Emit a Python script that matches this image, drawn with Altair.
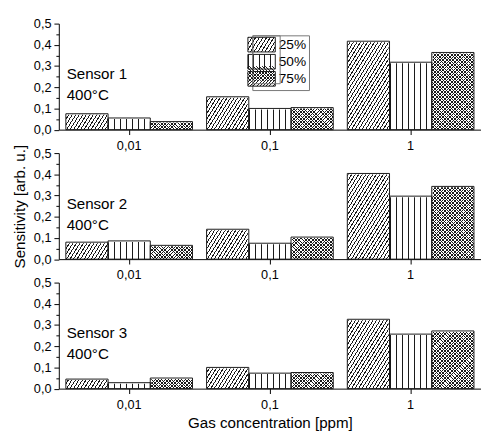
import math
import altair as alt
import pandas as pd

# ---------------- data ----------------
CONCS = ["0,01", "0,1", "1"]
HUMS = ["25%", "50%", "75%"]
SENSORS = ["Sensor 1", "Sensor 2", "Sensor 3"]
TEMP = "400°C"

S1_H25 = [0.075, 0.155, 0.417]
S1_H50 = [0.055, 0.100, 0.318]
S1_H75 = [0.038, 0.104, 0.364]

S2_H25 = [0.080, 0.141, 0.404]
S2_H50 = [0.086, 0.075, 0.297]
S2_H75 = [0.065, 0.104, 0.343]

S3_H25 = [0.045, 0.100, 0.327]
S3_H50 = [0.028, 0.073, 0.257]
S3_H75 = [0.050, 0.076, 0.272]

Y_TICKS = [0.0, 0.05, 0.1, 0.15, 0.2, 0.25, 0.3, 0.35, 0.4, 0.45, 0.5]

# ---------------- style ----------------
FONT = "Liberation Sans"
W = 432
H = 108.5
HATCH_TOP = 0.45                      # hatch texture band height (value units)
BAR_W = W / 3 * 0.9 / 3
BAR_H = H * HATCH_TOP / 0.5
LEG_W, LEG_H = 28, 15
INK = "#1a1a1a"
CLEAR = "rgba(255,255,255,0)"


def hatch(w, h, angle, spacing, lw, color=INK):
    """Linear gradient (objectBoundingBox units) drawing parallel lines
    at `angle` degrees on a w x h box."""
    th = math.radians(angle)
    a = math.sin(th) / h
    b = math.cos(th) / w
    n2 = a * a + b * b
    ts = [(u * a + v * b) / n2 for u, v in [(0, 0), (1, 0), (0, 1), (1, 1)]]
    t0, t1 = min(ts), max(ts)
    span = t1 - t0
    dtp = abs(a / w / n2) / span
    n = max(1, round(1 / (spacing * dtp)))
    per = 1.0 / n
    lwt = lw * dtp
    stops = []
    for k in range(n):
        o = k * per
        for off, col in [(o, color), (o + lwt, color), (o + lwt, CLEAR), (o + per, CLEAR)]:
            stops.append({"offset": round(min(1.0, off), 5), "color": col})
    return {
        "gradient": "linear",
        "x1": round(t0 * a, 6), "y1": round(t0 * b, 6),
        "x2": round(t1 * a, 6), "y2": round(t1 * b, 6),
        "stops": stops,
    }


def gexpr(g):
    stops = ",".join("{offset:%r,color:'%s'}" % (s["offset"], s["color"]) for s in g["stops"])
    return "{gradient:'linear',x1:%r,y1:%r,x2:%r,y2:%r,stops:[%s]}" % (
        g["x1"], g["y1"], g["x2"], g["y2"], stops)


G25 = hatch(BAR_W, BAR_H, 58, 3.6, 1.1)
G50 = hatch(BAR_W, BAR_H, 90, BAR_W / 7, 1.0)
G75A = hatch(BAR_W, BAR_H, 45, 3.4, 1.0)
G75B = hatch(BAR_W, BAR_H, 135, 3.4, 1.0)

L25 = hatch(LEG_W, LEG_H, 58, 3.6, 1.1)
L50 = hatch(LEG_W, LEG_H, 90, LEG_W / 5, 1.0)
L75A = hatch(LEG_W, LEG_H, 45, 3.4, 1.0)
L75B = hatch(LEG_W, LEG_H, 135, 3.4, 1.0)
EMPTY = {"gradient": "linear", "x1": 0, "y1": 0, "x2": 1, "y2": 0,
         "stops": [{"offset": 0, "color": CLEAR}, {"offset": 1, "color": CLEAR}]}

# swatch path: 4 x 2.14 units, drawn with size 196 -> 28 x 15 px
SWATCH = "M-2,-1.07H2V1.07H-2Z"

LABEL_EXPR = ("abs(datum.value*10 - round(datum.value*10)) < 0.001 ? "
              "replace(format(datum.value, '.1f'), '.', ',') : ''")
MAJOR_TEST = "abs(datum.value*10 - round(datum.value*10)) < 0.001"


def panel(idx, v25, v50, v75):
    rows = []
    for c, a, b, d in zip(CONCS, v25, v50, v75):
        rows += [{"conc": c, "hum": "25%", "value": a},
                 {"conc": c, "hum": "50%", "value": b},
                 {"conc": c, "hum": "75%", "value": d}]
    df = pd.DataFrame(rows)
    last = idx == 2
    middle = idx == 1

    x = alt.X("conc:N",
              scale=alt.Scale(domain=CONCS, paddingInner=0.1, paddingOuter=0.05),
              axis=alt.Axis(title="Gas concentration [ppm]" if last else None,
                            labelAngle=0, tickSize=5, labelPadding=5,
                            titleFontSize=15.5, titlePadding=5))
    xo = alt.XOffset("hum:N", scale=alt.Scale(domain=HUMS, paddingInner=0, paddingOuter=0))
    yscale = alt.Scale(domain=[0, 0.5], nice=False, zero=True)
    yaxis = alt.Axis(title="Sensitivity [arb. u.]" if middle else None,
                     values=Y_TICKS, labelExpr=LABEL_EXPR, labelOverlap=False,
                     tickSize={"condition": {"test": MAJOR_TEST, "value": 5}, "value": 3},
                     labelPadding=3, titleFontSize=15.5, titlePadding=6)
    y_val = alt.Y("value:Q", scale=yscale, axis=yaxis)
    y_tex = alt.Y(datum=HATCH_TOP, type="quantitative", scale=yscale, axis=yaxis)

    base = alt.Chart(df).encode(x=x, xOffset=xo)

    h25 = base.transform_filter(alt.datum.hum == "25%").mark_bar(fill=G25).encode(y=y_tex)
    h50 = base.transform_filter(alt.datum.hum == "50%").mark_bar(fill=G50).encode(y=y_tex)
    h75a = base.transform_filter(alt.datum.hum == "75%").mark_bar(fill=G75A).encode(y=y_tex)
    h75b = base.transform_filter(alt.datum.hum == "75%").mark_bar(fill=G75B).encode(y=y_tex)
    cover = base.mark_bar(fill="white", stroke="white", strokeWidth=2).encode(
        y=y_val, y2=alt.datum(HATCH_TOP))
    outline = base.mark_bar(fill="transparent", stroke=INK, strokeWidth=1).encode(y=y_val)

    tdf = pd.DataFrame({"name": [SENSORS[idx]]})
    text = alt.Chart(tdf).mark_text(
        text=[SENSORS[idx], TEMP], align="left", baseline="alphabetic",
        font=FONT, fontSize=15.5, lineHeight=21.5, color="black"
    ).encode(x=alt.value(8), y=alt.value(56.7))

    layers = [h25, h50, h75a, h75b, cover, outline, text]

    if idx == 0:
        common = dict(orient="none", legendX=198, legendY=12, title=None,
                      symbolType=SWATCH, symbolSize=196, symbolOpacity=1,
                      labelFont=FONT, labelFontSize=14, labelOffset=10,
                      padding=2, rowPadding=-1.5, direction="vertical")
        legA = base.mark_point(filled=True, opacity=0).encode(
            fill=alt.Fill("hum:N",
                          scale=alt.Scale(domain=HUMS,
                                          range=[alt.ExprRef(expr=gexpr(L25)),
                                                 alt.ExprRef(expr=gexpr(L50)),
                                                 alt.ExprRef(expr=gexpr(L75A))]),
                          legend=alt.Legend(symbolStrokeColor=INK, symbolStrokeWidth=1,
                                            labelColor="black", strokeColor="#777777",
                                            fillColor="white", cornerRadius=0,
                                            **common)))
        legB = base.mark_point(filled=True, opacity=0).encode(
            fill=alt.Fill("hum:N",
                          scale=alt.Scale(domain=HUMS,
                                          range=[alt.ExprRef(expr=gexpr(EMPTY)),
                                                 alt.ExprRef(expr=gexpr(EMPTY)),
                                                 alt.ExprRef(expr=gexpr(L75B))]),
                          legend=alt.Legend(symbolStrokeWidth=0, labelExpr="''",
                                            strokeColor="#777777", **common)))
        layers += [legA, legB]

    return alt.layer(*layers).resolve_scale(fill="independent").properties(width=W, height=H)


p1 = panel(0, S1_H25, S1_H50, S1_H75)
p2 = panel(1, S2_H25, S2_H50, S2_H75)
p3 = panel(2, S3_H25, S3_H50, S3_H75)

chart = alt.vconcat(p1, p2, p3, spacing=23.5, bounds="flush").properties(
    padding={"left": 4, "top": 5, "right": 0, "bottom": 0}
).configure_view(stroke=None).configure_axis(
    grid=False, domainColor="black", tickColor="black", labelColor="black",
    titleColor="black", labelFont=FONT, titleFont=FONT, labelFontSize=13,
    titleFontWeight="normal", domainWidth=1, tickWidth=1
).configure_legend(strokeColor="#777777", strokeWidth=1)

chart.save("out.html", embed_options={"renderer": "svg", "actions": False})
